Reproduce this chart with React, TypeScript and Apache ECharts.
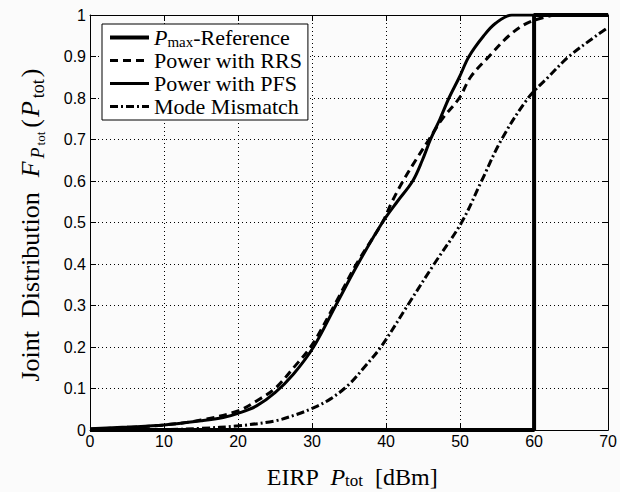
import React, { useEffect, useRef } from 'react';
import * as echarts from 'echarts';

// ---- data ----
const xTickValues = [0, 10, 20, 30, 40, 50, 60, 70];
const yTickValues = [0, 0.1, 0.2, 0.3, 0.4, 0.5, 0.6, 0.7, 0.8, 0.9, 1];

const seriesNames = ['Pmax-Reference', 'Power with RRS', 'Power with PFS', 'Mode Mismatch'];

const refData: [number, number][] = [[0, 0], [60, 0], [60, 1], [70, 1]];

const rrsData: [number, number][] = [
  [0, 0.002], [5, 0.006], [10, 0.012], [15, 0.024], [20, 0.046], [22.5, 0.07],
  [25, 0.1], [27.5, 0.15], [30, 0.205], [33, 0.3], [36, 0.4], [39.5, 0.5],
  [40.8, 0.55], [42.3, 0.6], [44, 0.65], [45.8, 0.7], [47.6, 0.75], [49.9, 0.8],
  [51.4, 0.85], [53.9, 0.9], [56.6, 0.95], [59, 0.98], [61.5, 0.995], [63, 1], [70, 1],
];

const pfsData: [number, number][] = [
  [0, 0.003], [5, 0.007], [10, 0.012], [15, 0.022], [18, 0.03], [20, 0.04],
  [22.5, 0.058], [25, 0.09], [27.5, 0.135], [30.2, 0.2], [33.2, 0.3], [36.2, 0.4],
  [39.5, 0.5], [41.5, 0.55], [43.6, 0.6], [44.9, 0.65], [46, 0.7], [47.3, 0.75],
  [48.5, 0.8], [49.9, 0.85], [51.2, 0.9], [53.2, 0.95], [54.8, 0.98], [57, 1], [70, 1],
];

const mmData: [number, number][] = [
  [0, 0], [10, 0.001], [15, 0.004], [20, 0.01], [25, 0.022], [28, 0.038],
  [30, 0.052], [32.5, 0.075], [35, 0.11], [37, 0.15], [39.3, 0.2], [42.9, 0.3],
  [46.5, 0.4], [50.2, 0.5], [52.9, 0.6], [55.6, 0.7], [59.2, 0.8], [61.9, 0.85],
  [64.7, 0.9], [68.4, 0.95], [70, 0.97],
];

const SERIF = 'Liberation Serif';
const SANS = 'Liberation Sans';

export default function App() {
  const ref = useRef<HTMLDivElement>(null);

  useEffect(() => {
    document.body.style.margin = '0';
    if (!ref.current) return;
    const chart = echarts.init(ref.current, undefined, { renderer: 'svg' });

    const gridLine = { show: true, lineStyle: { color: '#000', width: 1, type: [1, 3] as number[] } };
    const axisLine = { show: true, onZero: false, lineStyle: { color: '#000', width: 1 } };
    const tick = { show: true, inside: true, length: 6, lineStyle: { color: '#000', width: 1 } };
    const clear = 'rgba(0,0,0,0)';
    const legendWidths = [4, 3, 3, 3];

    const option: any = {
      animation: false,
      backgroundColor: '#fbfbfb',
      grid: { left: 90, right: 8, top: 15, bottom: 62, containLabel: false },
      xAxis: [
        {
          type: 'value', min: xTickValues[0], max: xTickValues[xTickValues.length - 1], interval: 10,
          position: 'bottom', axisLine, axisTick: tick,
          axisLabel: { color: '#000', fontSize: 16, fontFamily: SANS, margin: 3 },
          splitLine: gridLine,
        },
        {
          type: 'value', min: 0, max: 70, interval: 10, position: 'top',
          axisLine, axisTick: tick, axisLabel: { show: false }, splitLine: { show: false },
        },
      ],
      yAxis: [
        {
          type: 'value', min: yTickValues[0], max: yTickValues[yTickValues.length - 1], interval: 0.1,
          position: 'left', axisLine, axisTick: tick,
          axisLabel: { color: '#000', fontSize: 16, fontFamily: SANS, margin: 4 },
          splitLine: gridLine,
        },
        {
          type: 'value', min: 0, max: 1, interval: 0.1, position: 'right',
          axisLine, axisTick: tick, axisLabel: { show: false }, splitLine: { show: false },
        },
      ],
      legend: {
        left: 102, top: 24, orient: 'vertical',
        data: seriesNames.map((name, i) => ({ name, lineStyle: { width: legendWidths[i] } })),
        itemWidth: 39, itemHeight: 12, itemGap: 0,
        padding: [2, 6, 2, 6],
        borderColor: '#000', borderWidth: 1, backgroundColor: '#fff',
        itemStyle: { color: clear, borderColor: clear, borderWidth: 0 },
        formatter: (name: string) =>
          name === seriesNames[0] ? '{i|P}{s|max}{n|-Reference}' : '{n|' + name + '}',
        textStyle: {
          color: '#000', fontFamily: SERIF, fontSize: 22, lineHeight: 23,
          rich: {
            n: { fontFamily: SERIF, fontSize: 22, lineHeight: 23, color: '#000' },
            i: { fontFamily: SERIF, fontSize: 22, lineHeight: 23, fontStyle: 'italic', color: '#000' },
            s: { fontFamily: SERIF, fontSize: 15, lineHeight: 15, verticalAlign: 'bottom', color: '#000' },
          },
        },
      },
      graphic: [
        {
          type: 'text', x: 352, y: 477,
          style: {
            text: '{n|EIRP  }{i|P}{s|tot}{n|  [dBm]}',
            align: 'center', verticalAlign: 'middle',
            rich: {
              n: { fontFamily: SERIF, fontSize: 24, lineHeight: 24, fill: '#000' },
              i: { fontFamily: SERIF, fontSize: 24, lineHeight: 24, fontStyle: 'italic', fill: '#000' },
              s: { fontFamily: SERIF, fontSize: 17, lineHeight: 12, verticalAlign: 'bottom', fill: '#000' },
            },
          },
        },
        {
          type: 'text', x: 30, y: 225, rotation: Math.PI / 2,
          style: {
            text: '{n|Joint  Distribution  }{i|F}{sp|P}{ss|tot}{n|(}{i|P}{s|tot}{n|)}',
            align: 'center', verticalAlign: 'middle',
            rich: {
              n: { fontFamily: SERIF, fontSize: 26, lineHeight: 34, fill: '#000' },
              i: { fontFamily: SERIF, fontSize: 26, lineHeight: 34, fontStyle: 'italic', fill: '#000', padding: [0, 2, 0, 2] },
              sp: { fontFamily: SERIF, fontSize: 18, lineHeight: 20, fontStyle: 'italic', verticalAlign: 'bottom', fill: '#000', padding: [0, 1, 0, 1] },
              ss: { fontFamily: SERIF, fontSize: 13, lineHeight: 8, verticalAlign: 'bottom', fill: '#000', padding: [0, 4, 0, 1] },
              s: { fontFamily: SERIF, fontSize: 18, lineHeight: 20, verticalAlign: 'bottom', fill: '#000', padding: [0, 2, 0, 1] },
            },
          },
        },
      ],
      series: [
        {
          name: seriesNames[0], type: 'line', data: refData, symbol: 'none', z: 5,
          lineStyle: { color: '#000', width: 4, type: 'solid' }, itemStyle: { color: '#000' },
        },
        {
          name: seriesNames[1], type: 'line', data: rrsData, symbol: 'none', smooth: 0.35,
          lineStyle: { color: '#000', width: 3, type: [8, 5] }, itemStyle: { color: '#000' },
        },
        {
          name: seriesNames[2], type: 'line', data: pfsData, symbol: 'none', smooth: 0.35,
          lineStyle: { color: '#000', width: 3, type: 'solid' }, itemStyle: { color: '#000' },
        },
        {
          name: seriesNames[3], type: 'line', data: mmData, symbol: 'none', smooth: 0.35,
          lineStyle: { color: '#000', width: 3, type: [8, 3, 2, 3] }, itemStyle: { color: '#000' },
        },
      ],
    };

    chart.setOption(option);
    return () => chart.dispose();
  }, []);

  return (
    <div
      ref={ref}
      style={{ position: 'fixed', left: 0, top: 0, width: 620, height: 492 }}
    />
  );
}
